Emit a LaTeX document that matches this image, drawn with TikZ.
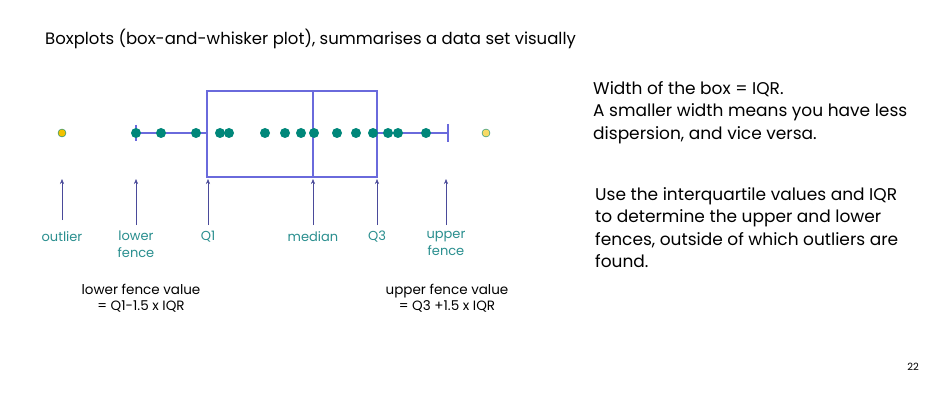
\documentclass[tikz,border=0pt]{standalone}
\usepackage{fontspec}
\setmainfont{Poppins}
\begin{document}
\begin{tikzpicture}[x=1pt,y=-1pt,
  dot/.style={circle,fill=tealc,inner sep=0pt,minimum size=10pt},
  lbl/.style={text=lblc,font=\fontsize{13}{17}\selectfont,align=center,anchor=north,inner sep=0pt},
  arr/.style={draw=arrc,-{Stealth[length=5pt,width=4pt]},thin},
  txt/.style={font=\fontsize{17}{22.5}\selectfont,align=left,anchor=north west,inner sep=0pt},
  small/.style={font=\fontsize{13.5}{15.5}\selectfont,align=center,anchor=north,inner sep=0pt}]
\usetikzlibrary{arrows.meta}
\definecolor{tealc}{HTML}{00877A}
\definecolor{boxc}{HTML}{6A6ADC}
\definecolor{lblc}{HTML}{2A8F8F}
\definecolor{arrc}{HTML}{4A4A9A}
\definecolor{yel}{HTML}{F2C200}
\useasboundingbox[fill=white] (0,0) rectangle (950,409);
\node[txt,font=\fontsize{16.5}{20}\selectfont] (title) at (45,29) {Boxplots (box-and-whisker plot), summarises a data set visually};
% whiskers and box
\coordinate (lf) at (136,133);
\coordinate (uf) at (448,133);
\draw[boxc,line width=1.6pt] (lf) -- (207,133) (377,133) -- (uf);
\draw[boxc,line width=1.6pt] (136,125) -- (136,141) (448,124) -- (448,142);
\draw[boxc,line width=1.6pt] (207,91) rectangle (377,177);
\draw[boxc,line width=1.6pt] (313,91) -- (313,177);
\foreach \x in {136,161,196,220,229,265,285,301,314,337,356,373,388,398,426}
  \node[dot] at (\x,133) {};
\node[circle,draw=tealc,fill=yel,inner sep=0pt,minimum size=8pt] (o1) at (62,133) {};
\node[circle,draw=tealc,fill=yel!60,inner sep=0pt,minimum size=8pt] (o2) at (486,133) {};
% labels and arrows
\foreach \n/\x/\t/\s in {a/62/outlier/220,b/136/lower\\fence/225,c/208/Q1/225,d/313/median/225,e/377/Q3/225,f/446/upper\\fence/225}{
  \node[lbl] (\n) at (\x,231) {\t};
  \coordinate (\n s) at (\x,\s);
  \coordinate (\n t) at (\x,179);
  \draw[arr] (\n s) -- (\n t);
}
\node[small] (lv) at (141,284) {lower fence value\\= Q1-1.5 x IQR};
\node[small] (uv) at (447,284) {upper fence value\\= Q3 +1.5 x IQR};
\node[txt] (w) at (593,81) {Width of the box = IQR.\\A smaller width means you have less\\dispersion, and vice versa.};
\node[txt] (u) at (595,187) {Use the interquartile values and IQR\\to determine the upper and lower\\fences, outside of which outliers are\\found.};
\node[font=\fontsize{10}{12}\selectfont] (pg) at (913,367) {22};
\end{tikzpicture}
\end{document}
